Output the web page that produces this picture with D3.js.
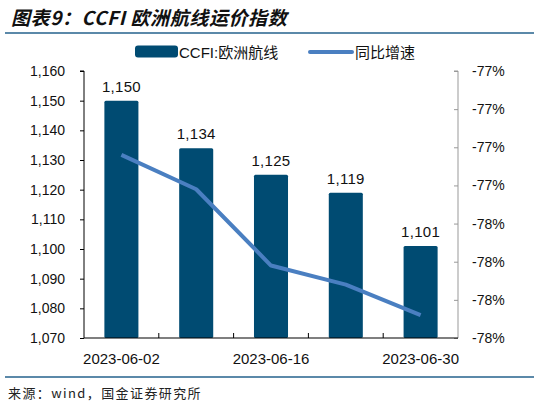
<!DOCTYPE html>
<html><head><meta charset="utf-8">
<script src="https://cdn.jsdelivr.net/npm/d3@7/dist/d3.min.js"></script>
<style>body{margin:0;background:#fff}svg{display:block}</style>
</head><body>
<svg id="c" width="541" height="406"></svg>
<script>
const categories = ["2023-06-02","2023-06-09","2023-06-16","2023-06-23","2023-06-30"];
const ccfiValues = [1150, 1134, 1125, 1119, 1101];
const yoyValues = [-77.24, -77.42, -77.82, -77.92, -78.08];
const leftTicks = [1070,1080,1090,1100,1110,1120,1130,1140,1150,1160];
const rightTicks = [-78.2,-78.0,-77.8,-77.6,-77.4,-77.2,-77.0,-76.8];
const xLabelShown = ["2023-06-02","2023-06-16","2023-06-30"];
const seriesNames = ["CCFI:欧洲航线","同比增速"];
const titleText = "图表9：CCFI 欧洲航线运价指数";
const sourceText = "来源：wind，国金证券研究所";

const svg = d3.select("#c");
const L = 84, R = 458, T = 71, B = 338;
const barColor = "#004b72", lineColor = "#4a7fc1", ruleColor = "#24628c";
const latin = "'Liberation Sans', Arial, sans-serif";
const cjk = "'Liberation Sans', 'Noto Sans CJK SC', sans-serif";

// title
svg.append("text").attr("x", 11).attr("y", 25)
  .attr("font-family", "'Noto Sans CJK SC', sans-serif").attr("font-weight", "bold")
  .attr("font-style", "italic").attr("font-size", 19).attr("letter-spacing", 0.6)
  .attr("fill", "#111").text(titleText);
svg.append("line").attr("x1", 5).attr("x2", 534).attr("y1", 33).attr("y2", 33)
  .attr("stroke", ruleColor).attr("stroke-width", 1.6);
svg.append("line").attr("x1", 5).attr("x2", 534).attr("y1", 377).attr("y2", 377)
  .attr("stroke", ruleColor).attr("stroke-width", 1.6);
svg.append("text").attr("x", 8).attr("y", 398)
  .attr("font-family", "'Noto Sans CJK SC', sans-serif").attr("font-size", 13)
  .attr("letter-spacing", 1.4).attr("fill", "#222").text(sourceText);

// scales
const x = d3.scaleBand().domain(categories).range([L, R]).paddingInner(0.545).paddingOuter(0.2725);
const yL = d3.scaleLinear().domain([1070, 1160]).range([B, T]);
const yR = d3.scaleLinear().domain([-78.2, -76.8]).range([B, T]);

// bars
svg.append("g").selectAll("rect").data(categories).join("rect")
  .attr("x", d => x(d)).attr("width", x.bandwidth())
  .attr("y", (d,i) => yL(ccfiValues[i])).attr("height", (d,i) => B - yL(ccfiValues[i]))
  .attr("rx", 1.5).attr("fill", barColor);

// value labels
svg.append("g").selectAll("text").data(categories).join("text")
  .attr("x", d => x(d) + x.bandwidth()/2).attr("y", (d,i) => yL(ccfiValues[i]) - 9)
  .attr("text-anchor", "middle").attr("font-family", latin).attr("font-size", 15)
  .attr("letter-spacing", 0.3).attr("fill", "#111")
  .text((d,i) => d3.format(",")(ccfiValues[i]));

// left axis
const gl = svg.append("g").attr("transform", `translate(${L},0)`)
  .call(d3.axisLeft(yL).tickValues(leftTicks).tickSize(4).tickPadding(15).tickFormat(d3.format(",")));
gl.select(".domain").attr("stroke", "#000").attr("d", `M-4,${T}H0V${B}`);
gl.selectAll(".tick line").attr("stroke", "#000");
gl.selectAll("text").attr("font-family", latin).attr("font-size", 14).attr("fill", "#111");

// right axis
const gr = svg.append("g").attr("transform", `translate(${R},0)`)
  .call(d3.axisRight(yR).tickValues(rightTicks).tickSize(-4).tickPadding(14).tickFormat(d => Math.round(d) + "%"));
gr.select(".domain").attr("stroke", "#999").attr("d", `M-4,${T}H0V${B}`);
gr.selectAll(".tick line").attr("stroke", "#999");
gr.selectAll("text").attr("font-family", latin).attr("font-size", 14).attr("fill", "#111");

// bottom axis
const gb = svg.append("g").attr("transform", `translate(0,${B})`)
  .call(d3.axisBottom(x).tickSize(0).tickPadding(15).tickFormat(d => xLabelShown.includes(d) ? d : ""));
gb.select(".domain").attr("stroke", "#000").attr("stroke-width", 1.2).attr("d", `M${L},0H${R}`);
gb.selectAll("text").attr("font-family", latin).attr("font-size", 15).attr("fill", "#111");
const boundaries = categories.slice(1).map(d => x(d) - x.step()*x.paddingInner()/2);
gb.selectAll(".sep").data(boundaries).join("line").attr("class","sep")
  .attr("x1", d => d).attr("x2", d => d).attr("y1", 0).attr("y2", -5)
  .attr("stroke", "#000");

// line
const line = d3.line().x((d,i) => x(categories[i]) + x.bandwidth()/2).y(d => yR(d));
svg.append("path").datum(yoyValues).attr("d", line).attr("fill", "none")
  .attr("stroke", lineColor).attr("stroke-width", 4).attr("stroke-linejoin", "round");

// legend
svg.append("rect").attr("x", 135).attr("y", 45.5).attr("width", 43).attr("height", 12)
  .attr("rx", 3).attr("fill", barColor);
svg.append("text").attr("x", 179).attr("y", 58).attr("font-family", cjk).attr("font-size", 15)
  .attr("fill", "#111").text(seriesNames[0]);
svg.append("line").attr("x1", 310).attr("x2", 352).attr("y1", 52).attr("y2", 52)
  .attr("stroke", lineColor).attr("stroke-width", 4).attr("stroke-linecap", "round");
svg.append("text").attr("x", 355).attr("y", 58).attr("font-family", cjk).attr("font-size", 15)
  .attr("fill", "#111").text(seriesNames[1]);
</script>
</body></html>
